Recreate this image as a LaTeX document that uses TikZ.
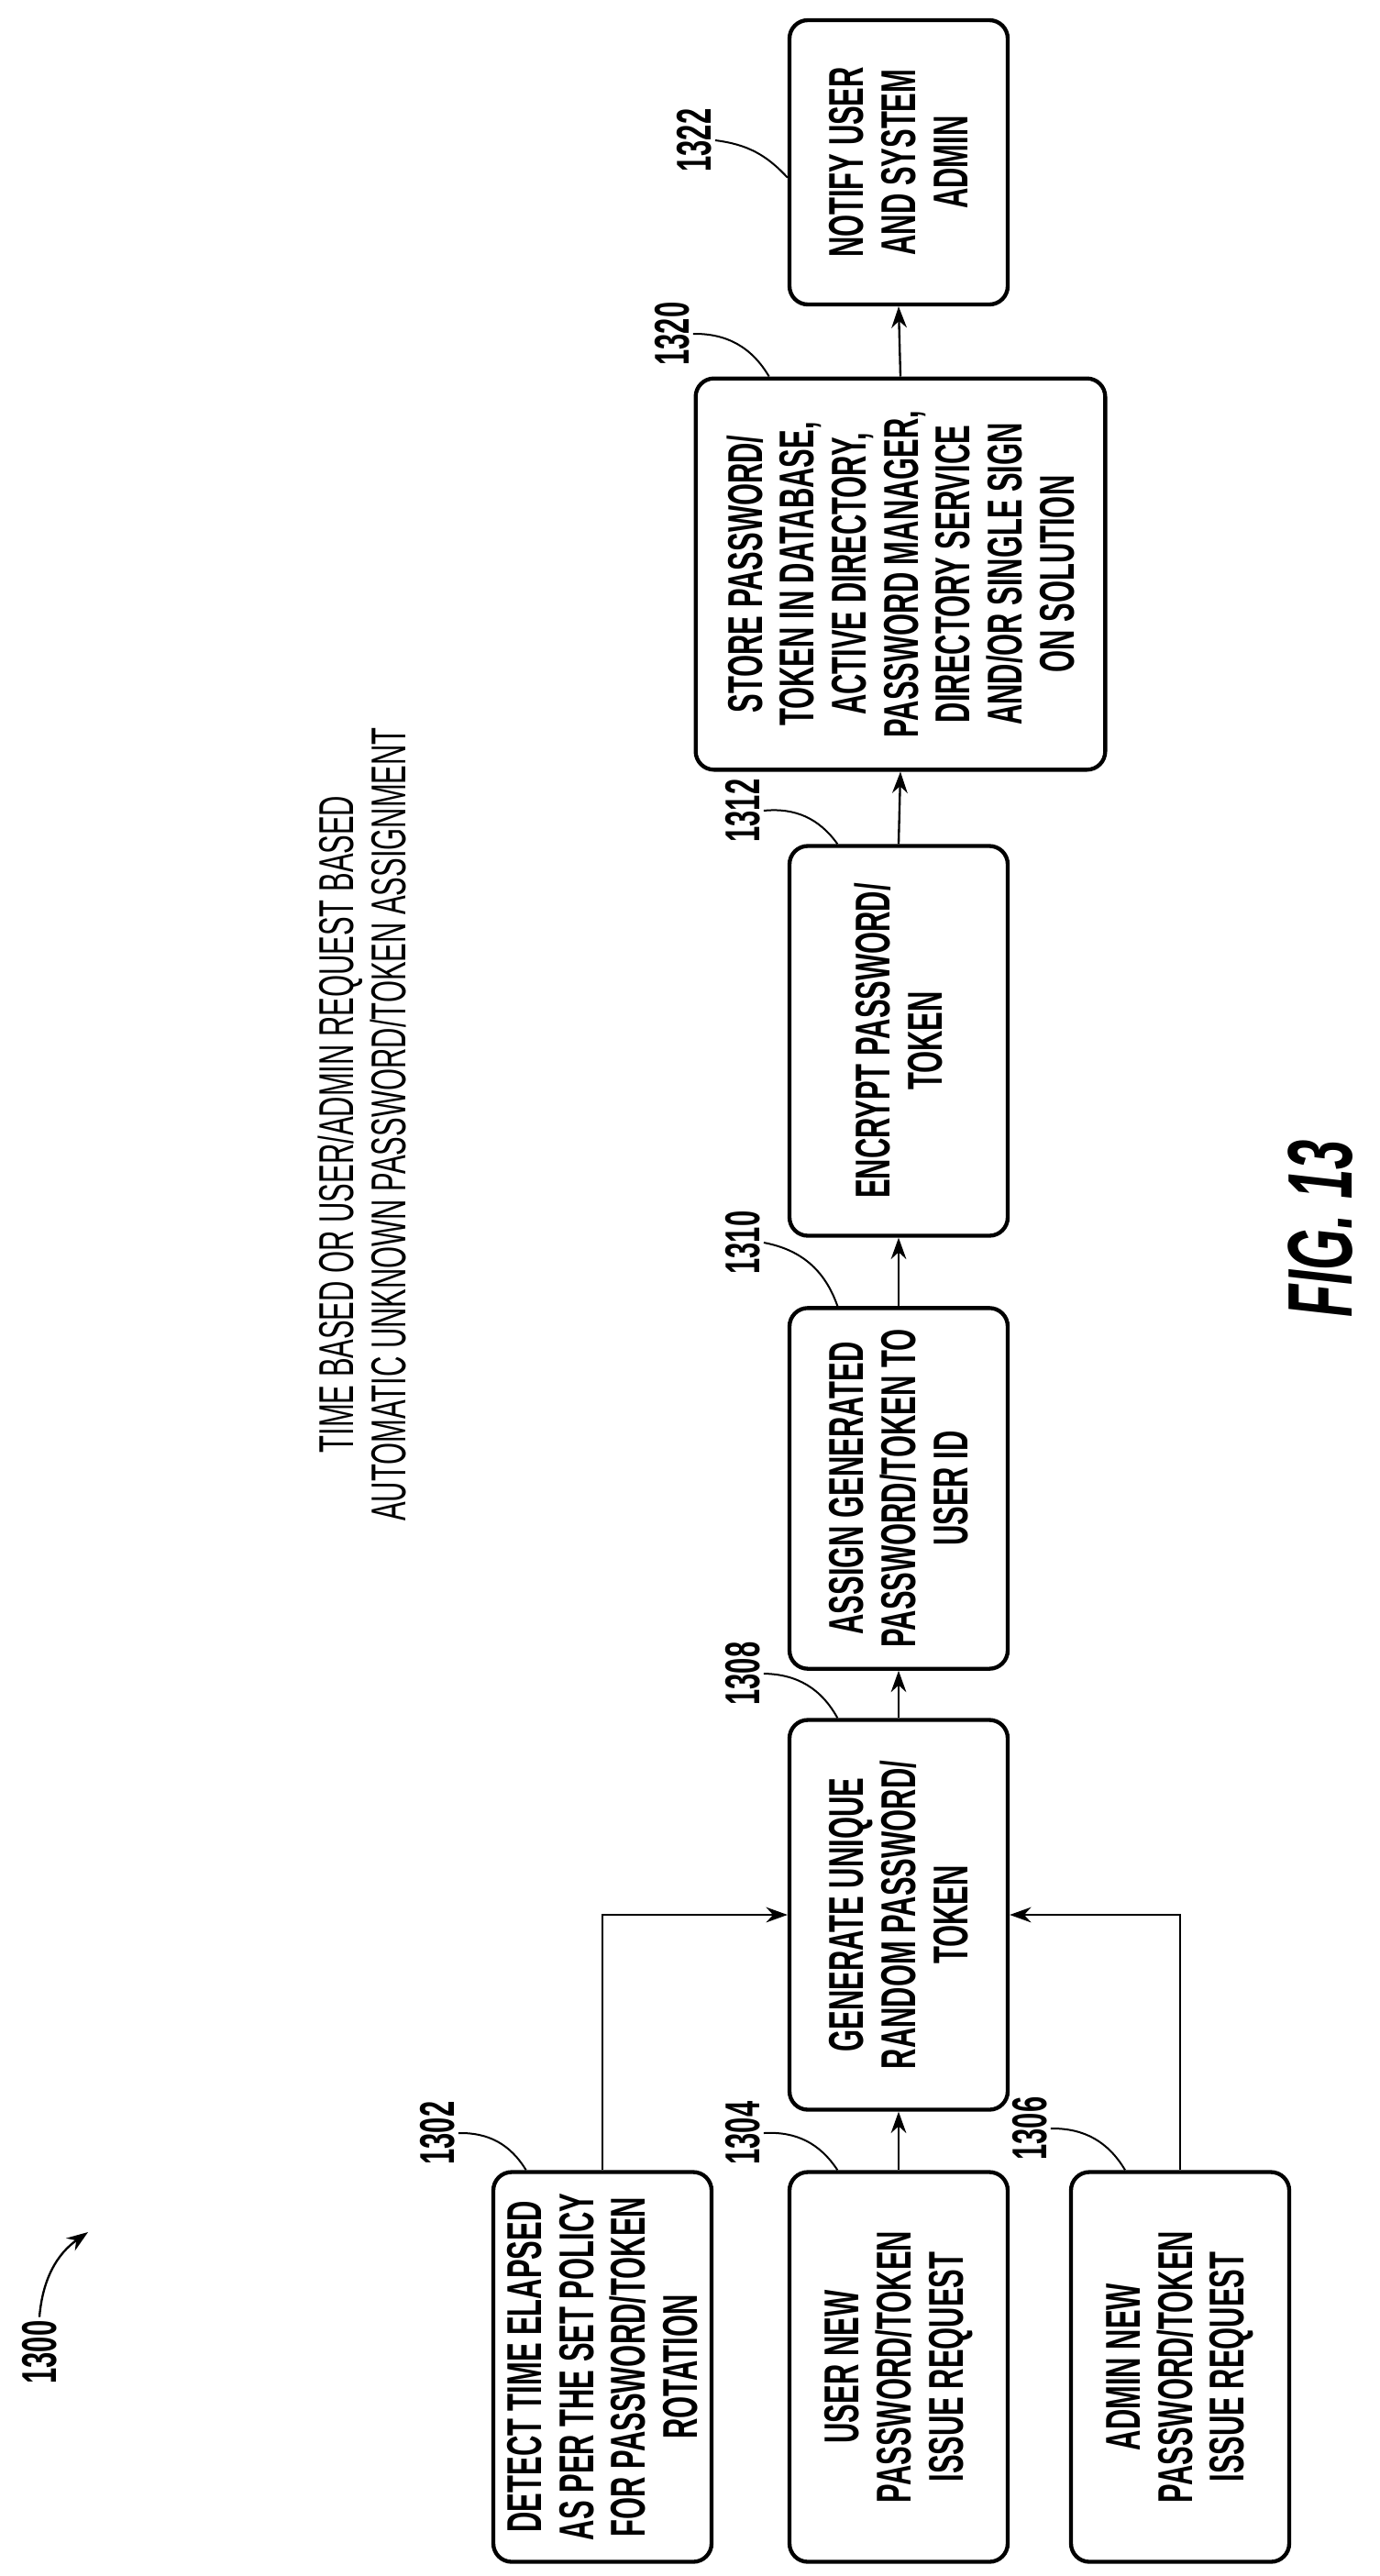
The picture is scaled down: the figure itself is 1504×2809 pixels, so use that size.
\documentclass[tikz,border=0pt]{standalone}
\usepackage{fontspec}
\setsansfont{Liberation Sans}[FakeStretch=0.58]
\usetikzlibrary{arrows.meta}
\begin{document}
\begin{tikzpicture}[x=0.3pt, y=-0.3pt, font=\sffamily\bfseries\fontsize{16}{17}\selectfont]
		\tikzset{bx/.style={draw=black, line width=1.3pt, rounded corners=6pt, rotate=90, align=center, inner sep=2pt}};
		\tikzset{num/.style={rotate=90, inner sep=1pt}};
		\tikzset{arr/.style={-{Stealth[length=7pt, width=5pt]}, line width=0.7pt}};
		\useasboundingbox (0,0) rectangle (1504,2809);

		\node[bx, minimum width=93pt, minimum height=71.4pt] (b1322) at (980,177) {NOTIFY USER\\AND SYSTEM\\ADMIN};
		\node[bx, minimum width=128pt, minimum height=134pt] (b1320) at (982,626) {STORE PASSWORD/\\TOKEN IN DATABASE,\\ACTIVE DIRECTORY,\\PASSWORD MANAGER,\\DIRECTORY SERVICE\\AND/OR SINGLE SIGN\\ON SOLUTION};
		\node[bx, minimum width=127.5pt, minimum height=71.4pt] (b1312) at (980,1135) {ENCRYPT PASSWORD/\\TOKEN};
		\node[bx, minimum width=118pt, minimum height=71.4pt] (b1310) at (980,1623) {ASSIGN GENERATED\\PASSWORD/TOKEN TO\\USER ID};
		\node[bx, minimum width=127.5pt, minimum height=71.4pt] (b1308) at (980,2088) {GENERATE UNIQUE\\RANDOM PASSWORD/\\TOKEN};
		\node[bx, minimum width=127.5pt, minimum height=71.4pt] (b1302) at (657,2581) {DETECT TIME ELAPSED\\AS PER THE SET POLICY\\FOR PASSWORD/TOKEN\\ROTATION};
		\node[bx, minimum width=127.5pt, minimum height=71.4pt] (b1304) at (980,2581) {USER NEW\\PASSWORD/TOKEN\\ISSUE REQUEST};
		\node[bx, minimum width=127.5pt, minimum height=71.4pt] (b1306) at (1287,2581) {ADMIN NEW\\PASSWORD/TOKEN\\ISSUE REQUEST};

		\node[num, align=center, font=\sffamily\fontsize{16}{17}\selectfont] (title) at (395,1226) {TIME BASED OR USER/ADMIN REQUEST BASED\\AUTOMATIC UNKNOWN PASSWORD/TOKEN ASSIGNMENT};
		\node[num, font=\sffamily\bfseries\itshape\fontsize{30}{30}\selectfont] (fig) at (1440,1340) {FIG. 13};

		\node[num] (n1300) at (43,2565) {1300};
		\node[num] (n1302) at (477,2326) {1302};
		\node[num] (n1304) at (810,2326) {1304};
		\node[num] (n1306) at (1123,2321) {1306};
		\node[num] (n1308) at (810,1825) {1308};
		\node[num] (n1310) at (810,1355) {1310};
		\node[num] (n1312) at (810,884) {1312};
		\node[num] (n1320) at (733,364) {1320};
		\node[num] (n1322) at (757,153) {1322};
		\coordinate (p1300) at (96,2434);

		\draw[arr] (b1304.east) -- (b1308.west);
		\draw[arr] (b1302.east) |- (b1308.north);
		\draw[arr] (b1306.east) |- (b1308.south);
		\draw[arr] (b1308.east) -- (b1310.west);
		\draw[arr] (b1310.east) -- (b1312.west);
		\draw[arr] (b1312.east) -- (b1320.west);
		\draw[arr] (b1320.east) -- (b1322.west);

		\draw[arr] (n1300.east) to[bend left=25] (p1300);
		\draw[line width=0.6pt] (n1302.south) to[bend left=30] ([xshift=-25pt]b1302.east);
		\draw[line width=0.6pt] (n1304.south) to[bend left=30] ([xshift=-20pt]b1304.east);
		\draw[line width=0.6pt] (n1306.south) to[bend left=30] ([xshift=-18pt]b1306.east);
		\draw[line width=0.6pt] (n1308.south) to[bend left=30] ([xshift=-20pt]b1308.east);
		\draw[line width=0.6pt] (n1310.south) to[bend left=30] ([xshift=-20pt]b1310.east);
		\draw[line width=0.6pt] (n1312.south) to[bend left=30] ([xshift=-20pt]b1312.east);
		\draw[line width=0.6pt] (n1320.south) to[bend left=30] ([xshift=-43pt]b1320.east);
		\draw[line width=0.6pt] (n1322.south) to[bend left=20] ([yshift=-5pt]b1322.north);

\end{tikzpicture}
\end{document}
